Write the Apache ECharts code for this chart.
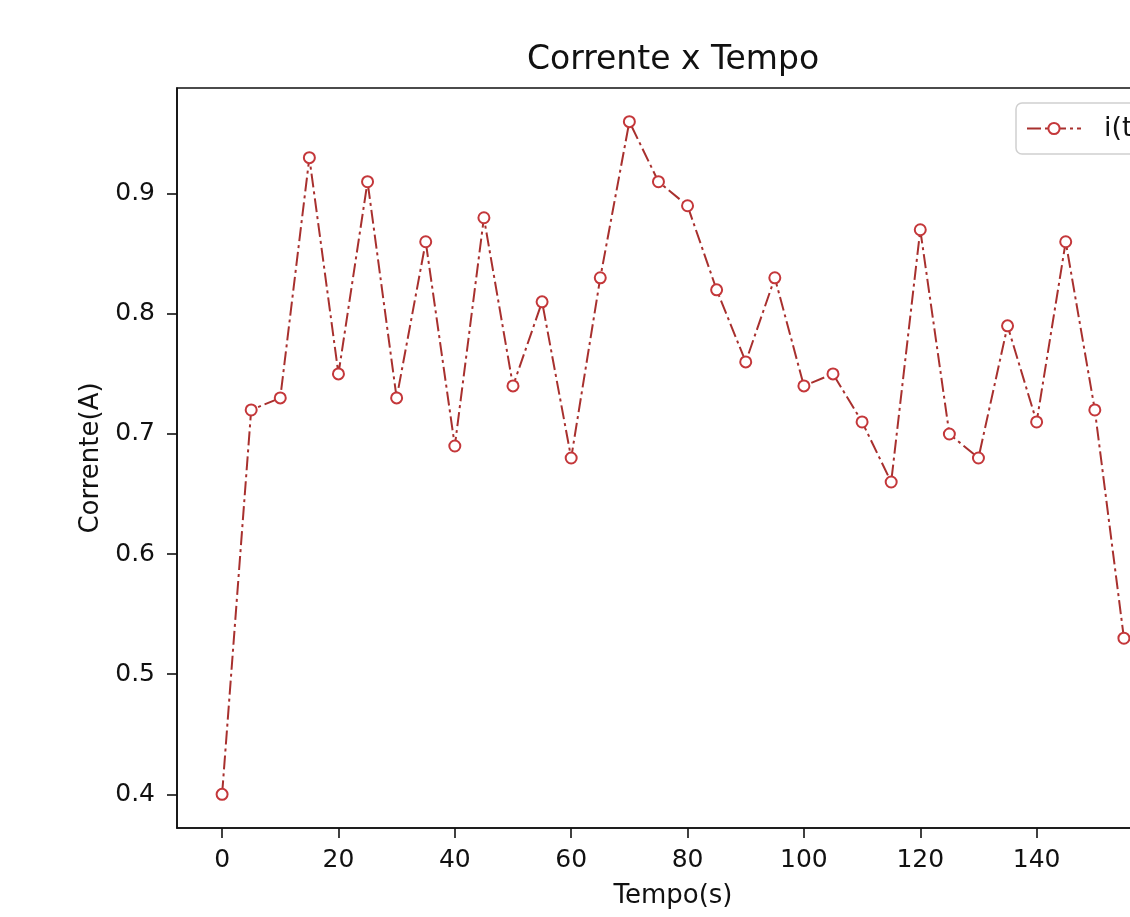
<!DOCTYPE html>
<html>
<head>
<meta charset="utf-8">
<script src="https://cdn.jsdelivr.net/npm/echarts@6/dist/echarts.min.js"></script>
<style>
  html, body { margin: 0; padding: 0; overflow: hidden; background: #fff; width: 1130px; height: 917px; }
  #chart { width: 1346px; height: 917px; }
</style>
</head>
<body>
<div id="chart"></div>
<script>
const tempo = [0, 5, 10, 15, 20, 25, 30, 35, 40, 45, 50, 55, 60, 65, 70, 75,
               80, 85, 90, 95, 100, 105, 110, 115, 120, 125, 130, 135, 140, 145, 150, 155];
const corrente = [0.40, 0.72, 0.73, 0.93, 0.75, 0.91, 0.73, 0.86, 0.69, 0.88, 0.74, 0.81, 0.68, 0.83, 0.96, 0.91,
                  0.89, 0.82, 0.76, 0.83, 0.74, 0.75, 0.71, 0.66, 0.87, 0.70, 0.68, 0.79, 0.71, 0.86, 0.72, 0.53];
const xTicks = [0, 20, 40, 60, 80, 100, 120, 140, 160];
const yTicks = [0.4, 0.5, 0.6, 0.7, 0.8, 0.9];

const font = 'DejaVu Sans';
const lineColor = '#a8302e';

const chart = echarts.init(document.getElementById('chart'), null, { renderer: 'canvas' });
chart.setOption({
  animation: false,
  backgroundColor: '#fff',
  title: {
    text: 'Corrente x Tempo',
    left: 'center',
    top: 44,
    padding: 0,
    textStyle: { fontFamily: font, fontSize: 33, fontWeight: 'normal', color: '#111' }
  },
  legend: {
    left: 1016,
    top: 103,
    padding: [12, 12, 12, 10],
    backgroundColor: '#fff',
    borderColor: '#d0d0d0',
    borderWidth: 1.5,
    borderRadius: 6,
    itemWidth: 54,
    itemHeight: 14,
    textStyle: { fontFamily: font, fontSize: 27, color: '#111', padding: [0, 0, 0, 18] },
    data: ['i(t)']
  },
  grid: {
    left: 177, right: 177, top: 88, bottom: 89,
    show: true, borderColor: '#111', borderWidth: 1.6, backgroundColor: 'transparent'
  },
  xAxis: {
    type: 'value',
    min: -7.75,
    max: 162.75,
    name: 'Tempo(s)',
    nameLocation: 'middle',
    nameGap: 55,
    nameTextStyle: { fontFamily: font, fontSize: 26, color: '#111' },
    axisLine: { show: true, onZero: false, lineStyle: { color: '#111', width: 1.6 } },
    axisTick: { show: true, length: 10, lineStyle: { color: '#111', width: 1.6 }, customValues: xTicks },
    axisLabel: { fontFamily: font, fontSize: 25, color: '#111', margin: 20, customValues: xTicks },
    splitLine: { show: false }
  },
  yAxis: {
    type: 'value',
    min: 0.372,
    max: 0.988,
    name: 'Corrente(A)',
    nameLocation: 'middle',
    nameGap: 72,
    nameTextStyle: { fontFamily: font, fontSize: 26, color: '#111' },
    axisLine: { show: true, onZero: false, lineStyle: { color: '#111', width: 1.6 } },
    axisTick: { show: true, length: 10, lineStyle: { color: '#111', width: 1.6 }, customValues: yTicks },
    axisLabel: {
      fontFamily: font, fontSize: 25, color: '#111', margin: 22, customValues: yTicks,
      formatter: v => v.toFixed(1)
    },
    splitLine: { show: false }
  },
  series: [{
    name: 'i(t)',
    type: 'line',
    data: tempo.map((t, i) => [t, corrente[i]]),
    symbol: 'emptyCircle',
    symbolSize: 11,
    showAllSymbol: true,
    lineStyle: { color: lineColor, width: 2, type: [14, 4, 3, 4] },
    itemStyle: { color: '#c4373a', borderColor: '#c4373a', borderWidth: 2.6 },
    emphasis: { disabled: true }
  }]
});
</script>
</body>
</html>
